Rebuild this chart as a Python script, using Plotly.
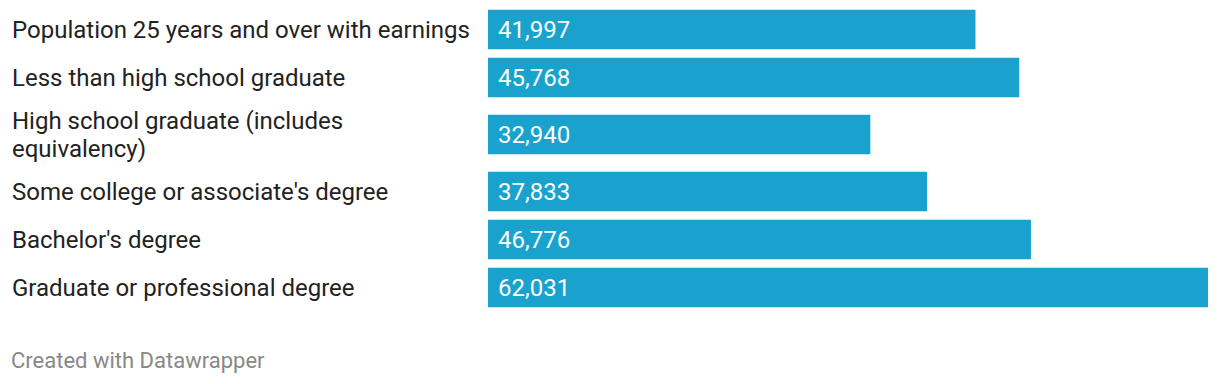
import plotly.graph_objects as go

categories = [
    "Population 25 years and over with earnings",
    "Less than high school graduate",
    "High school graduate (includes<br>equivalency)",
    "Some college or associate's degree",
    "Bachelor's degree",
    "Graduate or professional degree",
]
earnings = [41997, 45768, 32940, 37833, 46776, 62031]

# page has an 8px body margin; figure coordinates are page coordinates minus 8
OFF = 8
W, H = 1220 - 2 * OFF, 384 - 2 * OFF
ML = 488 - OFF
MR = W - (1208 - OFF)
plot_w = W - ML - MR
BAR_COLOR = "#18a2cd"
FONT = "Roboto"
FS = 24
LINE_GAP = 28

# Row layout: slot height depends on number of label lines
top = 5.5 - OFF
centers = []
y = top
for c in categories:
    n = c.count("<br>") + 1
    slot = 48 + 18 * (n - 1)
    centers.append(y + slot / 2)
    y += slot

fig = go.Figure()
fig.add_trace(go.Bar(
    x=earnings, y=centers, orientation="h", width=39.5,
    marker=dict(color=BAR_COLOR, line=dict(width=0)),
    hoverinfo="skip",
))

ann = []
lab_x = (10 - OFF - ML) / plot_w
for c, v, yc in zip(categories, earnings, centers):
    lines = c.split("<br>")
    n = len(lines)
    for i, ln in enumerate(lines):
        shift = -(i - (n - 1) / 2) * LINE_GAP
        ann.append(dict(x=lab_x, xref="paper", y=yc, yref="y", text=ln, yshift=shift,
                        xanchor="left", yanchor="middle", align="left", showarrow=False,
                        font=dict(family=FONT, size=FS, color="#222222")))
    ann.append(dict(x=0, xref="x", y=yc, yref="y", text=f"{v:,}", xshift=8,
                    xanchor="left", yanchor="middle", showarrow=False,
                    font=dict(family=FONT, size=FS, color="#ffffff")))
ann.append(dict(x=(9 - OFF - ML) / plot_w, xref="paper", y=1 - (360 - OFF) / H, yref="paper",
                text="Created with Datawrapper", xanchor="left", yanchor="middle",
                showarrow=False, font=dict(family=FONT, size=22, color="#888888")))

fig.update_layout(
    width=W, height=H,
    margin=dict(l=ML, r=MR, t=0, b=0),
    paper_bgcolor="white", plot_bgcolor="white",
    showlegend=False,
    xaxis=dict(range=[0, max(earnings)], visible=False, fixedrange=True),
    yaxis=dict(range=[H, 0], visible=False, fixedrange=True),
    annotations=ann,
)
fig.write_html("out.html", config={"displayModeBar": False})
